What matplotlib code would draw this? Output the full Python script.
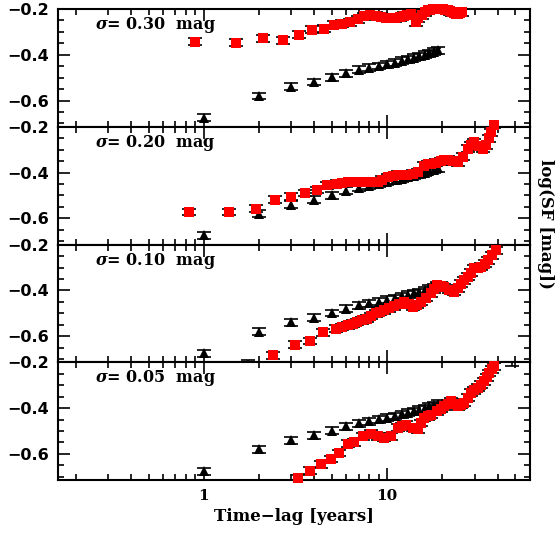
import numpy as np
import matplotlib
matplotlib.use('Agg')
import matplotlib.pyplot as plt
from matplotlib.ticker import MultipleLocator, LogLocator, NullFormatter

# observed structure function (black triangles), same in all panels
obs_lag = [1, 2, 3, 4, 5, 6, 7, 8, 9, 10, 11, 12, 13, 14, 15, 16, 17, 18, 19]
obs_sf = [-0.675, -0.580, -0.540, -0.519, -0.499, -0.480, -0.466, -0.457, -0.449,
          -0.441, -0.434, -0.426, -0.419, -0.413, -0.407, -0.400, -0.393, -0.387, -0.381]

sigmas = ['0.30', '0.20', '0.10', '0.05']

# simulated SF (red squares)
lag_030 = [0.90, 1.50, 2.10, 2.70, 3.30, 3.90, 4.50, 5.10, 5.70, 6.30, 6.90, 7.50, 8.10,
           8.70, 9.30, 9.90, 10.5, 11.1, 11.7, 12.3, 12.9, 13.5, 14.4, 14.8, 15.4, 16.0,
           16.6, 17.2, 17.8, 18.4, 19.0, 19.6, 20.2, 20.8, 21.4, 22.0, 22.6, 23.2, 23.8,
           24.4, 25.0, 25.6]
sf_030 = [-0.343, -0.347, -0.327, -0.336, -0.312, -0.290, -0.285, -0.268, -0.264, -0.258,
          -0.245, -0.232, -0.228, -0.229, -0.233, -0.238, -0.240, -0.240, -0.236, -0.230,
          -0.226, -0.222, -0.258, -0.240, -0.228, -0.214, -0.205, -0.203, -0.200, -0.198,
          -0.199, -0.200, -0.199, -0.202, -0.205, -0.210, -0.214, -0.217, -0.220, -0.220,
          -0.217, -0.215]

lag_020 = [0.83, 1.37, 1.92, 2.46, 2.98, 3.56, 4.13, 4.72, 5.36, 5.70, 6.08, 6.50, 6.89,
           7.30, 7.81, 8.30, 8.86, 9.40, 10.05, 10.7, 11.4, 12.1, 12.9, 13.8, 14.7, 15.9,
           16.6, 17.3, 18.5, 19.7, 20.5, 21.4, 22.8, 24.3, 25.9, 27.5, 28.7, 29.9, 31.5,
           33.2, 34.6, 35.7, 36.9, 38.4]
sf_020 = [-0.572, -0.572, -0.557, -0.518, -0.505, -0.489, -0.476, -0.456, -0.449, -0.447,
          -0.442, -0.441, -0.439, -0.440, -0.442, -0.441, -0.439, -0.432, -0.420, -0.415,
          -0.410, -0.411, -0.412, -0.405, -0.398, -0.369, -0.364, -0.362, -0.356, -0.351,
          -0.347, -0.344, -0.350, -0.354, -0.330, -0.296, -0.280, -0.267, -0.285, -0.296,
          -0.281, -0.250, -0.223, -0.192]

lag_010 = [2.39, 3.13, 3.80, 4.49, 5.24, 5.65, 6.08, 6.50, 6.89, 7.30, 7.81, 8.20, 8.67,
           9.10, 9.64, 10.2, 10.9, 11.6, 12.4, 13.1, 13.8, 14.5, 15.3, 16.3, 17.3, 18.0,
           18.8, 19.6, 20.5, 21.8, 23.2, 24.2, 25.3, 26.4, 27.5, 28.7, 29.9, 31.2, 32.5,
           34.0, 35.4, 37.3, 39.3]
sf_010 = [-0.683, -0.637, -0.621, -0.584, -0.567, -0.560, -0.552, -0.545, -0.538, -0.531,
          -0.523, -0.512, -0.501, -0.494, -0.487, -0.479, -0.469, -0.460, -0.450, -0.460,
          -0.472, -0.462, -0.450, -0.432, -0.413, -0.395, -0.377, -0.380, -0.385, -0.398,
          -0.406, -0.390, -0.370, -0.356, -0.341, -0.322, -0.304, -0.300, -0.297, -0.283,
          -0.268, -0.246, -0.224]

lag_005 = [3.26, 3.78, 4.34, 4.92, 5.47, 6.08, 6.61, 7.34, 8.15, 8.86, 9.64, 10.5, 11.4,
           12.0, 12.6, 13.8, 14.7, 15.3, 15.9, 16.6, 17.3, 18.8, 19.6, 20.5, 21.4, 22.3,
           23.3, 24.3, 25.3, 26.4, 27.5, 28.7, 29.9, 31.2, 32.5, 33.9, 35.0, 36.1, 37.2,
           38.4]
sf_005 = [-0.705, -0.673, -0.646, -0.622, -0.596, -0.555, -0.549, -0.523, -0.511, -0.523,
          -0.530, -0.523, -0.486, -0.478, -0.472, -0.486, -0.493, -0.465, -0.442, -0.435,
          -0.428, -0.413, -0.402, -0.391, -0.380, -0.370, -0.380, -0.391, -0.385, -0.377,
          -0.355, -0.333, -0.322, -0.311, -0.297, -0.282, -0.265, -0.246, -0.230, -0.216]

# points just off the plotted range (only their error bars show)
off_lag = [None, None, 1.75, 48.0]
off_sf = [None, None, -0.73, -0.19]

red_lags = [lag_030, lag_020, lag_010, lag_005]
red_sfs = [sf_030, sf_020, sf_010, sf_005]
err = 0.015

xticks = [1, 10]
xticklabels = ['1', '10']

plt.rcParams['font.weight'] = 'bold'
plt.rcParams['mathtext.fontset'] = 'dejavuserif'

fig, axes = plt.subplots(4, 1, sharex=True, figsize=(5.56, 5.33), dpi=100)
fig.subplots_adjust(left=0.104, right=0.953, top=0.983, bottom=0.099, hspace=0)

for i, ax in enumerate(axes):
    ax.errorbar(obs_lag, obs_sf, yerr=err, fmt='none', ecolor='k', elinewidth=1.2,
                capsize=5, capthick=1.2)
    ax.plot(obs_lag, obs_sf, '^', color='k', ms=7.5, mew=0)
    ax.errorbar(red_lags[i], red_sfs[i], yerr=err, fmt='none', ecolor='k',
                elinewidth=1.2, capsize=5, capthick=1.2)
    ax.plot(red_lags[i], red_sfs[i], 's', color='red', ms=7.5, mew=0, clip_on=False, zorder=5)
    if off_lag[i] is not None:
        ax.errorbar([off_lag[i]], [off_sf[i]], yerr=0.025, fmt='none', ecolor='k',
                    elinewidth=1.2, capsize=5, capthick=1.2)

    ax.text(0.078, 0.864, r'$\sigma$= ' + sigmas[i] + '  mag', transform=ax.transAxes,
            ha='left', va='center', family='DejaVu Serif', fontsize=11.5, fontweight='bold')

    ax.set_xscale('log')
    ax.set_xlim(0.16, 60)
    ax.set_ylim(-0.715, -0.2)
    ax.yaxis.set_major_locator(MultipleLocator(0.2))
    ax.yaxis.set_minor_locator(MultipleLocator(0.05))
    ax.xaxis.set_minor_locator(LogLocator(base=10, subs=np.arange(2, 10), numticks=20))
    ax.xaxis.set_minor_formatter(NullFormatter())
    ax.tick_params(which='both', direction='in', top=True, right=True, width=1.2)
    ax.tick_params(which='major', length=8.5, pad=6)
    ax.tick_params(which='minor', length=4.5)
    ax.tick_params(axis='y', labelsize=11.5)
    for s in ax.spines.values():
        s.set_linewidth(1.5)

ax = axes[-1]
ax.set_xticks(xticks, xticklabels)
for lab in ax.get_xticklabels():
    lab.set_family('DejaVu Serif')
    lab.set_fontsize(11)
ax.set_xlabel('Time\u2212lag [years]', family='DejaVu Serif', fontsize=12,
              fontweight='bold', labelpad=4)

fig.text(0.982, 0.580, 'log(SF [mag])', rotation=270, ha='center', va='center',
         family='DejaVu Serif', fontsize=12, fontweight='bold')

fig.savefig('out.png', dpi=100)
